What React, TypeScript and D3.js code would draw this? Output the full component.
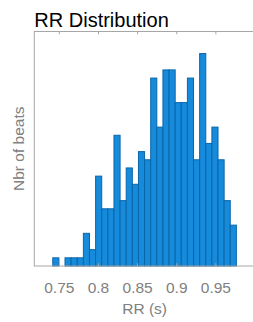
import { useEffect, useRef } from 'react'
import * as d3 from 'd3'

// histogram of RR intervals (s)
const binStart = 0.7416
const binWidth = 0.00782
const counts = [1, 0, 1, 1, 1, 4, 2, 11, 7, 7, 16, 8, 12, 10, 14, 13, 23, 17, 24, 24, 20, 20, 23, 13, 26, 15, 17, 13, 8, 5]
const xTicks = [0.75, 0.8, 0.85, 0.9, 0.95]
const xTickLabels = ['0.75', '0.8', '0.85', '0.9', '0.95']

export default function App() {
  const ref = useRef<SVGSVGElement | null>(null)

  useEffect(() => {
    if (!ref.current) return
    const width = 253
    const height = 322
    const margin = { top: 31.5, right: -2, bottom: 56, left: 34.3 }
    const font = '"Liberation Sans", Arial, sans-serif'

    const svg = d3.select(ref.current)
    svg.selectAll('*').remove()

    const bins = counts.map((c, i) => ({ x0: binStart + i * binWidth, x1: binStart + (i + 1) * binWidth, count: c }))

    const x = d3.scaleLinear().domain([0.718, 1.0]).range([margin.left, width - margin.right])
    const y = d3.scaleLinear().domain([0, 28.7]).range([height - margin.bottom, margin.top])

    svg.append('rect').attr('width', width).attr('height', height).attr('fill', '#fff')

    svg
      .append('g')
      .selectAll('rect')
      .data(bins.filter((b) => b.count > 0))
      .join('rect')
      .attr('x', (d) => x(d.x0))
      .attr('width', (d) => x(d.x1) - x(d.x0))
      .attr('y', (d) => y(d.count))
      .attr('height', (d) => y(0) - y(d.count))
      .attr('fill', '#168bdb')
      .attr('stroke', '#0a66a9')
      .attr('stroke-width', 1)

    const axisColor = '#a6a6a6'
    const x0 = margin.left
    const x1 = width - margin.right
    const yTop = margin.top
    const yBot = height - margin.bottom

    svg
      .append('rect')
      .attr('x', x0)
      .attr('y', yTop)
      .attr('width', x1 - x0)
      .attr('height', yBot - yTop)
      .attr('fill', 'none')
      .attr('stroke', axisColor)
      .attr('stroke-width', 1)

    const ticks = svg.append('g')
    xTicks.forEach((t) => {
      ticks.append('line').attr('x1', x(t)).attr('x2', x(t)).attr('y1', yTop).attr('y2', yTop + 2.8).attr('stroke', axisColor)
      ticks.append('line').attr('x1', x(t)).attr('x2', x(t)).attr('y1', yBot).attr('y2', yBot - 2.8).attr('stroke', axisColor)
    })

    svg
      .append('g')
      .selectAll('text')
      .data(xTicks)
      .join('text')
      .attr('x', (d) => x(d))
      .attr('y', 292.7)
      .attr('text-anchor', 'middle')
      .attr('font-family', font)
      .attr('font-size', 15.5)
      .attr('fill', '#808080')
      .text((_, i) => xTickLabels[i])

    svg
      .append('text')
      .attr('x', (x0 + x1) / 2)
      .attr('y', 314)
      .attr('text-anchor', 'middle')
      .attr('font-family', font)
      .attr('font-size', 15.5)
      .attr('fill', '#808080')
      .text('RR (s)')

    svg
      .append('text')
      .attr('transform', `translate(23.5,${(yTop + yBot) / 2}) rotate(-90)`)
      .attr('text-anchor', 'middle')
      .attr('font-family', font)
      .attr('font-size', 15.5)
      .attr('fill', '#808080')
      .text('Nbr of beats')

    svg
      .append('text')
      .attr('x', x0)
      .attr('y', 27.3)
      .attr('font-family', font)
      .attr('font-size', 20)
      .attr('fill', '#000')
      .text('RR Distribution')
  }, [])

  return (
    <svg
      ref={ref}
      width={253}
      height={322}
      style={{ position: 'absolute', left: 0, top: 0, display: 'block' }}
    />
  )
}
